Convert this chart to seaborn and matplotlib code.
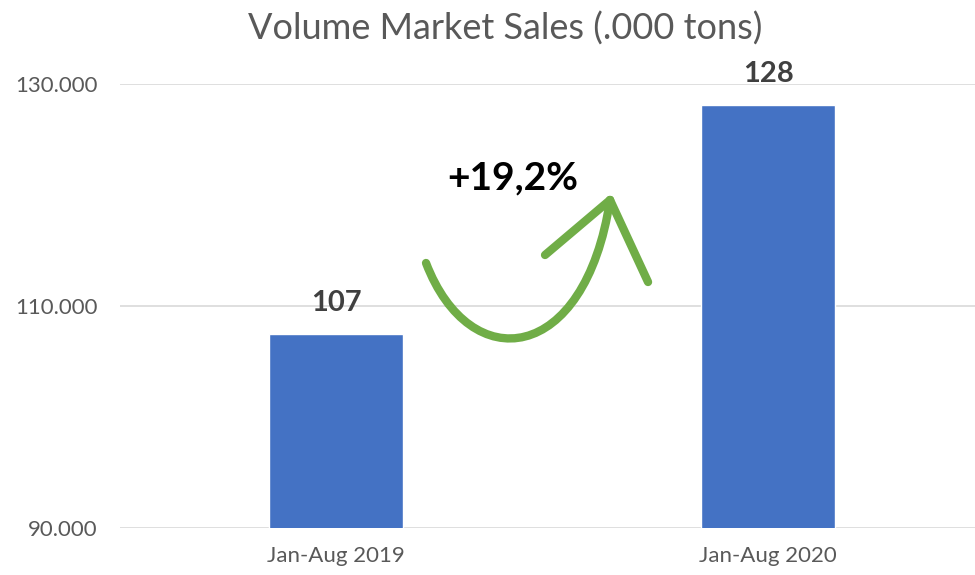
import matplotlib
matplotlib.use("Agg")
import matplotlib.pyplot as plt
import seaborn as sns
import pandas as pd
from matplotlib.path import Path
from matplotlib.patches import PathPatch
from matplotlib.ticker import FuncFormatter

periods = ["Jan-Aug 2019", "Jan-Aug 2020"]
volumes = [107500, 128100]
bar_labels = ["107", "128"]
yticks = [90000, 110000, 130000]
growth_label = "+19,2%"
title = "Volume Market Sales (.000 tons)"

sns.set_theme(style="white")
plt.rcParams["font.family"] = ["Lato", "DejaVu Sans"]

df = pd.DataFrame({"period": periods, "volume": volumes})

fig = plt.figure(figsize=(9.75, 5.75), dpi=100)
ax = fig.add_axes([120/975, 47/575, 855/975, 444/575])

sns.barplot(data=df, x="period", y="volume", color="#4472C4", width=0.31,
            saturation=1, ax=ax, zorder=3)

ax.set_ylim(90000, 130000)
ax.set_xlim(-0.5, 1.479)
ax.set_yticks(yticks)
ax.yaxis.set_major_formatter(FuncFormatter(lambda v, p: f"{int(v):,}".replace(",", ".")))
ax.grid(axis="y", color="#d9d9d9", linewidth=1.2, zorder=0)
ax.grid(axis="x", visible=False)
for s in ax.spines.values():
    s.set_visible(False)
ax.tick_params(axis="both", length=0, labelsize=16, labelcolor="#595959")
ax.tick_params(axis="y", pad=16)
ax.tick_params(axis="x", pad=13)
ax.set_xlabel("")
ax.set_ylabel("")

for i, (v, lab) in enumerate(zip(volumes, bar_labels)):
    ax.annotate(lab, (i, v), xytext=(0, 13), textcoords="offset points",
                ha="center", va="bottom", fontsize=21, fontweight="bold",
                color="#404040", annotation_clip=False)

fig.text(505/975, 1 - 29/575, title, ha="center", va="center",
         fontsize=26, color="#595959")

# growth annotation: green curved arrow
def px2data(px, py):
    return ((px - 336) / 432.0, 130000 - (py - 84) / 11.1 * 1000)

green = "#70AD47"
P0 = px2data(426, 263)
C1 = px2data(470, 378)
C2 = px2data(585, 365)
P3 = px2data(610, 200)
path = Path([P0, C1, C2, P3], [Path.MOVETO, Path.CURVE4, Path.CURVE4, Path.CURVE4])
ax.add_patch(PathPatch(path, facecolor="none", edgecolor=green, linewidth=6,
                       capstyle="round", zorder=5))
for end in [(545, 255), (648, 282)]:
    a = px2data(*end)
    ax.plot([P3[0], a[0]], [P3[1], a[1]], color=green, linewidth=6,
            solid_capstyle="round", zorder=5)

gx, gy = px2data(513, 178)
ax.text(gx, gy, growth_label, ha="center", va="center", fontsize=28,
        fontweight="bold", color="black", zorder=6)

fig.savefig("out.png", dpi=100, facecolor="white")
